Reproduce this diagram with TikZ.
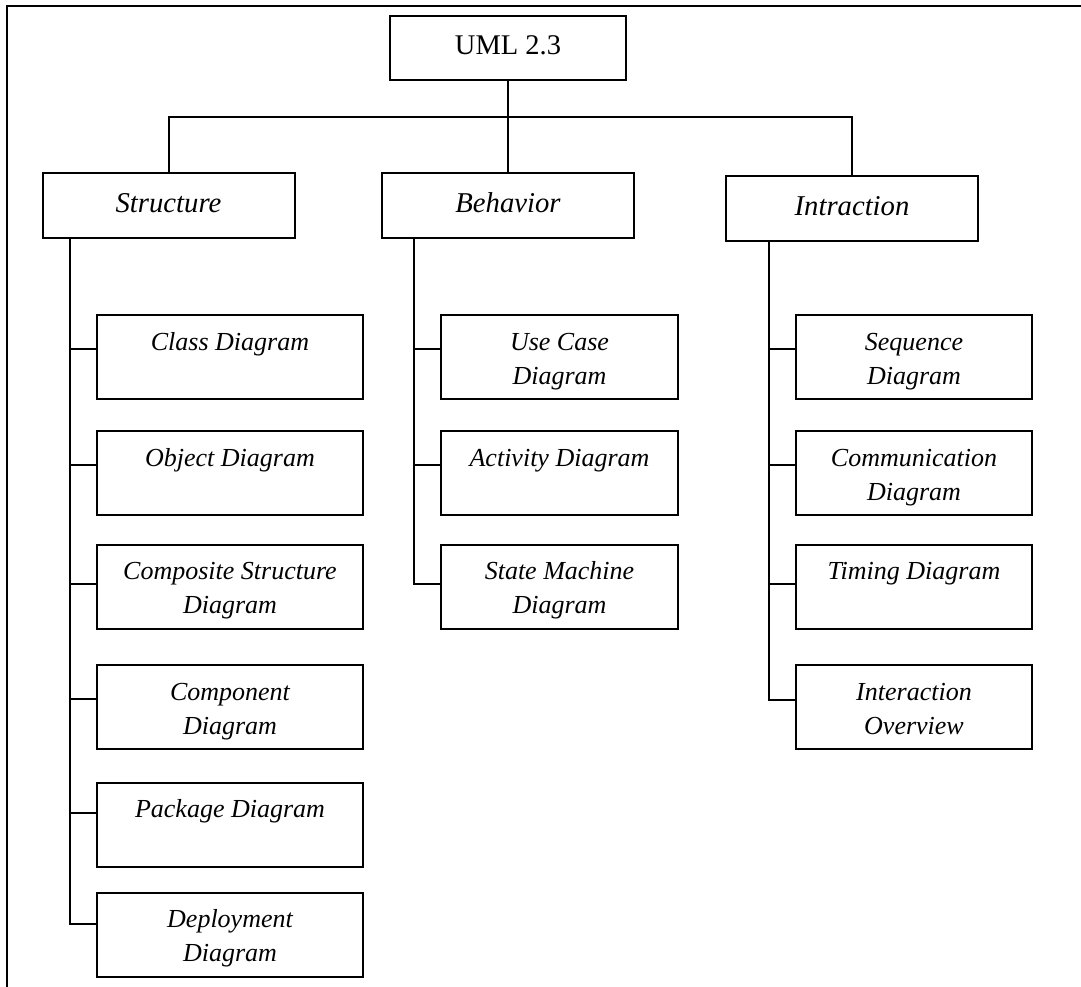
\documentclass[tikz,border=0pt]{standalone}
\usepackage{fontspec}
\setmainfont{Liberation Serif}
\usetikzlibrary{positioning}

\newcommand{\lstrut}{\rule[-7pt]{0pt}{34pt}}
\newcommand{\twoline}[2]{\lstrut #1\\\lstrut #2}

\begin{document}
\begin{tikzpicture}[x=1pt, y=-1pt, line width=2pt,
  rootbox/.style={draw, rectangle, minimum width=236, minimum height=64, inner sep=0pt, font=\fontsize{28.5}{34}\selectfont},
  catbox/.style={draw, rectangle, minimum width=252, minimum height=65, inner sep=0pt, font=\fontsize{28.7}{34}\selectfont\itshape},
  leafbox/.style={draw, rectangle, minimum height=84, inner sep=0pt, align=center, font=\fontsize{26}{34}\selectfont\itshape}]
\useasboundingbox (0,0) rectangle (1081,987);

% Frame
\draw (7,987) -- (7,6) -- (1081,6);

% Root and categories
\node[rootbox] (uml) at (508,48) {\strut UML 2.3};
\node[catbox] (struct) at (168.5,205.5) {\strut Structure};
\node[catbox] (behav) at (508,205.5) {\strut Behavior};
\node[catbox] (intr) at (852,208.5) {\strut Intraction};

\coordinate (bus) at (508,117);
\draw (uml.south) -- (bus) -| (struct.north);
\draw (bus) -| (intr.north);
\draw (bus) -- (behav.north);

% Structure diagrams
\node[leafbox, minimum width=266] (cls) at (230,357) {\twoline{Class Diagram}{}};
\node[leafbox, minimum width=266] (obj) at (230,473) {\twoline{Object Diagram}{}};
\node[leafbox, minimum width=266] (comp) at (230,586.5) {\twoline{Composite Structure}{Diagram}};
\node[leafbox, minimum width=266] (cmpn) at (230,707) {\twoline{Component}{Diagram}};
\node[leafbox, minimum width=266] (pkg) at (230,824.5) {\twoline{Package Diagram}{}};
\node[leafbox, minimum width=266] (dep) at (230,934.5) {\twoline{Deployment}{Diagram}};

% Behavior diagrams
\node[leafbox, minimum width=237] (uc) at (559.5,357) {\twoline{Use Case}{Diagram}};
\node[leafbox, minimum width=237] (act) at (559.5,473) {\twoline{Activity Diagram}{}};
\node[leafbox, minimum width=237] (sm) at (559.5,586.5) {\twoline{State Machine}{Diagram}};

% Interaction diagrams
\node[leafbox, minimum width=236] (seq) at (914,357) {\twoline{Sequence}{Diagram}};
\node[leafbox, minimum width=236] (com) at (914,473) {\twoline{Communication}{Diagram}};
\node[leafbox, minimum width=236] (tim) at (914,586.5) {\twoline{Timing Diagram}{}};
\node[leafbox, minimum width=236] (io) at (914,707) {\twoline{Interaction}{Overview}};

% Trunks and branches
\coordinate (sT) at (70,0);
\coordinate (bT) at (414,0);
\coordinate (iT) at (769,0);

\draw (struct.south -| sT) |- ([yshift=8pt]cls.west);
\draw (struct.south -| sT) |- ([yshift=8pt]obj.west);
\draw (struct.south -| sT) |- ([yshift=3pt]comp.west);
\draw (struct.south -| sT) |- ([yshift=8pt]cmpn.west);
\draw (struct.south -| sT) |- ([yshift=12pt]pkg.west);
\draw (struct.south -| sT) |- ([yshift=11pt]dep.west);

\draw (behav.south -| bT) |- ([yshift=8pt]uc.west);
\draw (behav.south -| bT) |- ([yshift=8pt]act.west);
\draw (behav.south -| bT) |- ([yshift=3pt]sm.west);

\draw (intr.south -| iT) |- ([yshift=8pt]seq.west);
\draw (intr.south -| iT) |- ([yshift=8pt]com.west);
\draw (intr.south -| iT) |- ([yshift=3pt]tim.west);
\draw (intr.south -| iT) |- ([yshift=7pt]io.west);

\end{tikzpicture}
\end{document}
